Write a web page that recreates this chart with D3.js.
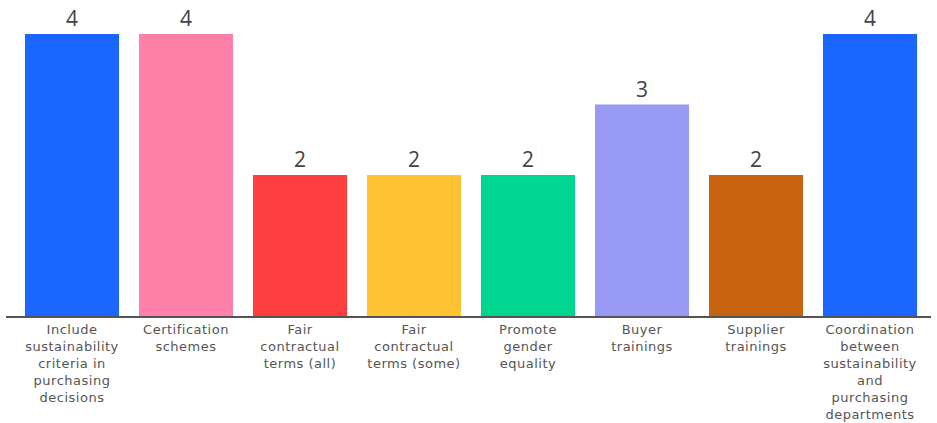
<!DOCTYPE html>
<html>
<head>
<meta charset="utf-8">
<script src="https://cdn.jsdelivr.net/npm/d3@7"></script>
<style>
  body { margin: 0; background: #fff; }
  svg { display: block; font-family: "Open Sans", "Noto Sans", sans-serif; }
  .cat { font-family: "DejaVu Sans", sans-serif; letter-spacing: 0.5px; }
</style>
</head>
<body>
<svg id="chart" width="937" height="423"></svg>
<script>
// categories (already broken into lines like the original)
var categories = [
	["Include", "sustainability", "criteria in", "purchasing", "decisions"],
	["Certification", "schemes"],
	["Fair", "contractual", "terms (all)"],
	["Fair", "contractual", "terms (some)"],
	["Promote", "gender", "equality"],
	["Buyer", "trainings"],
	["Supplier", "trainings"],
	["Coordination", "between", "sustainability", "and", "purchasing", "departments"]
];
var values = [4, 4, 2, 2, 2, 3, 2, 4];
var colours = ["#1a66ff", "#ff80a8", "#ff3f3f", "#ffc233", "#00d68f", "#999af3", "#c8630f", "#1a66ff"];

var svg = d3.select("#chart");
var baseY = 316;

var x = d3.scaleBand()
	.domain(d3.range(values.length))
	.range([15, 927])
	.paddingInner(0.175)
	.paddingOuter(0.0875);

var y = d3.scaleLinear()
	.domain([0, 4])
	.range([baseY, 34]);

// bars
svg.selectAll("rect.bar")
	.data(values)
	.enter().append("rect")
	.attr("class", "bar")
	.attr("x", function(d, i) { return x(i); })
	.attr("width", x.bandwidth())
	.attr("y", function(d) { return y(d); })
	.attr("height", function(d) { return baseY - y(d); })
	.attr("fill", function(d, i) { return colours[i]; });

// value labels on top
svg.selectAll("text.val")
	.data(values)
	.enter().append("text")
	.attr("class", "val")
	.attr("x", function(d, i) { return x(i) + x.bandwidth() / 2; })
	.attr("y", function(d) { return y(d) - 8; })
	.attr("text-anchor", "middle")
	.attr("font-size", 21)
	.attr("fill", "#444")
	.text(function(d) { return d; });

// baseline
svg.append("line")
	.attr("x1", 6).attr("x2", 931)
	.attr("y1", baseY + 1).attr("y2", baseY + 1)
	.attr("stroke", "#555")
	.attr("stroke-width", 2);

// category labels
var labels = svg.selectAll("text.cat")
	.data(categories)
	.enter().append("text")
	.attr("class", "cat")
	.attr("text-anchor", "middle")
	.attr("font-size", 13)
	.attr("fill", "#555")
	.attr("transform", function(d, i) { return "translate(" + (x(i) + x.bandwidth() / 2) + ",334)"; });

labels.selectAll("tspan")
	.data(function(d) { return d; })
	.enter().append("tspan")
	.attr("x", 0)
	.attr("y", function(d, j) { return j * 17; })
	.text(function(d) { return d; });
</script>
</body>
</html>
